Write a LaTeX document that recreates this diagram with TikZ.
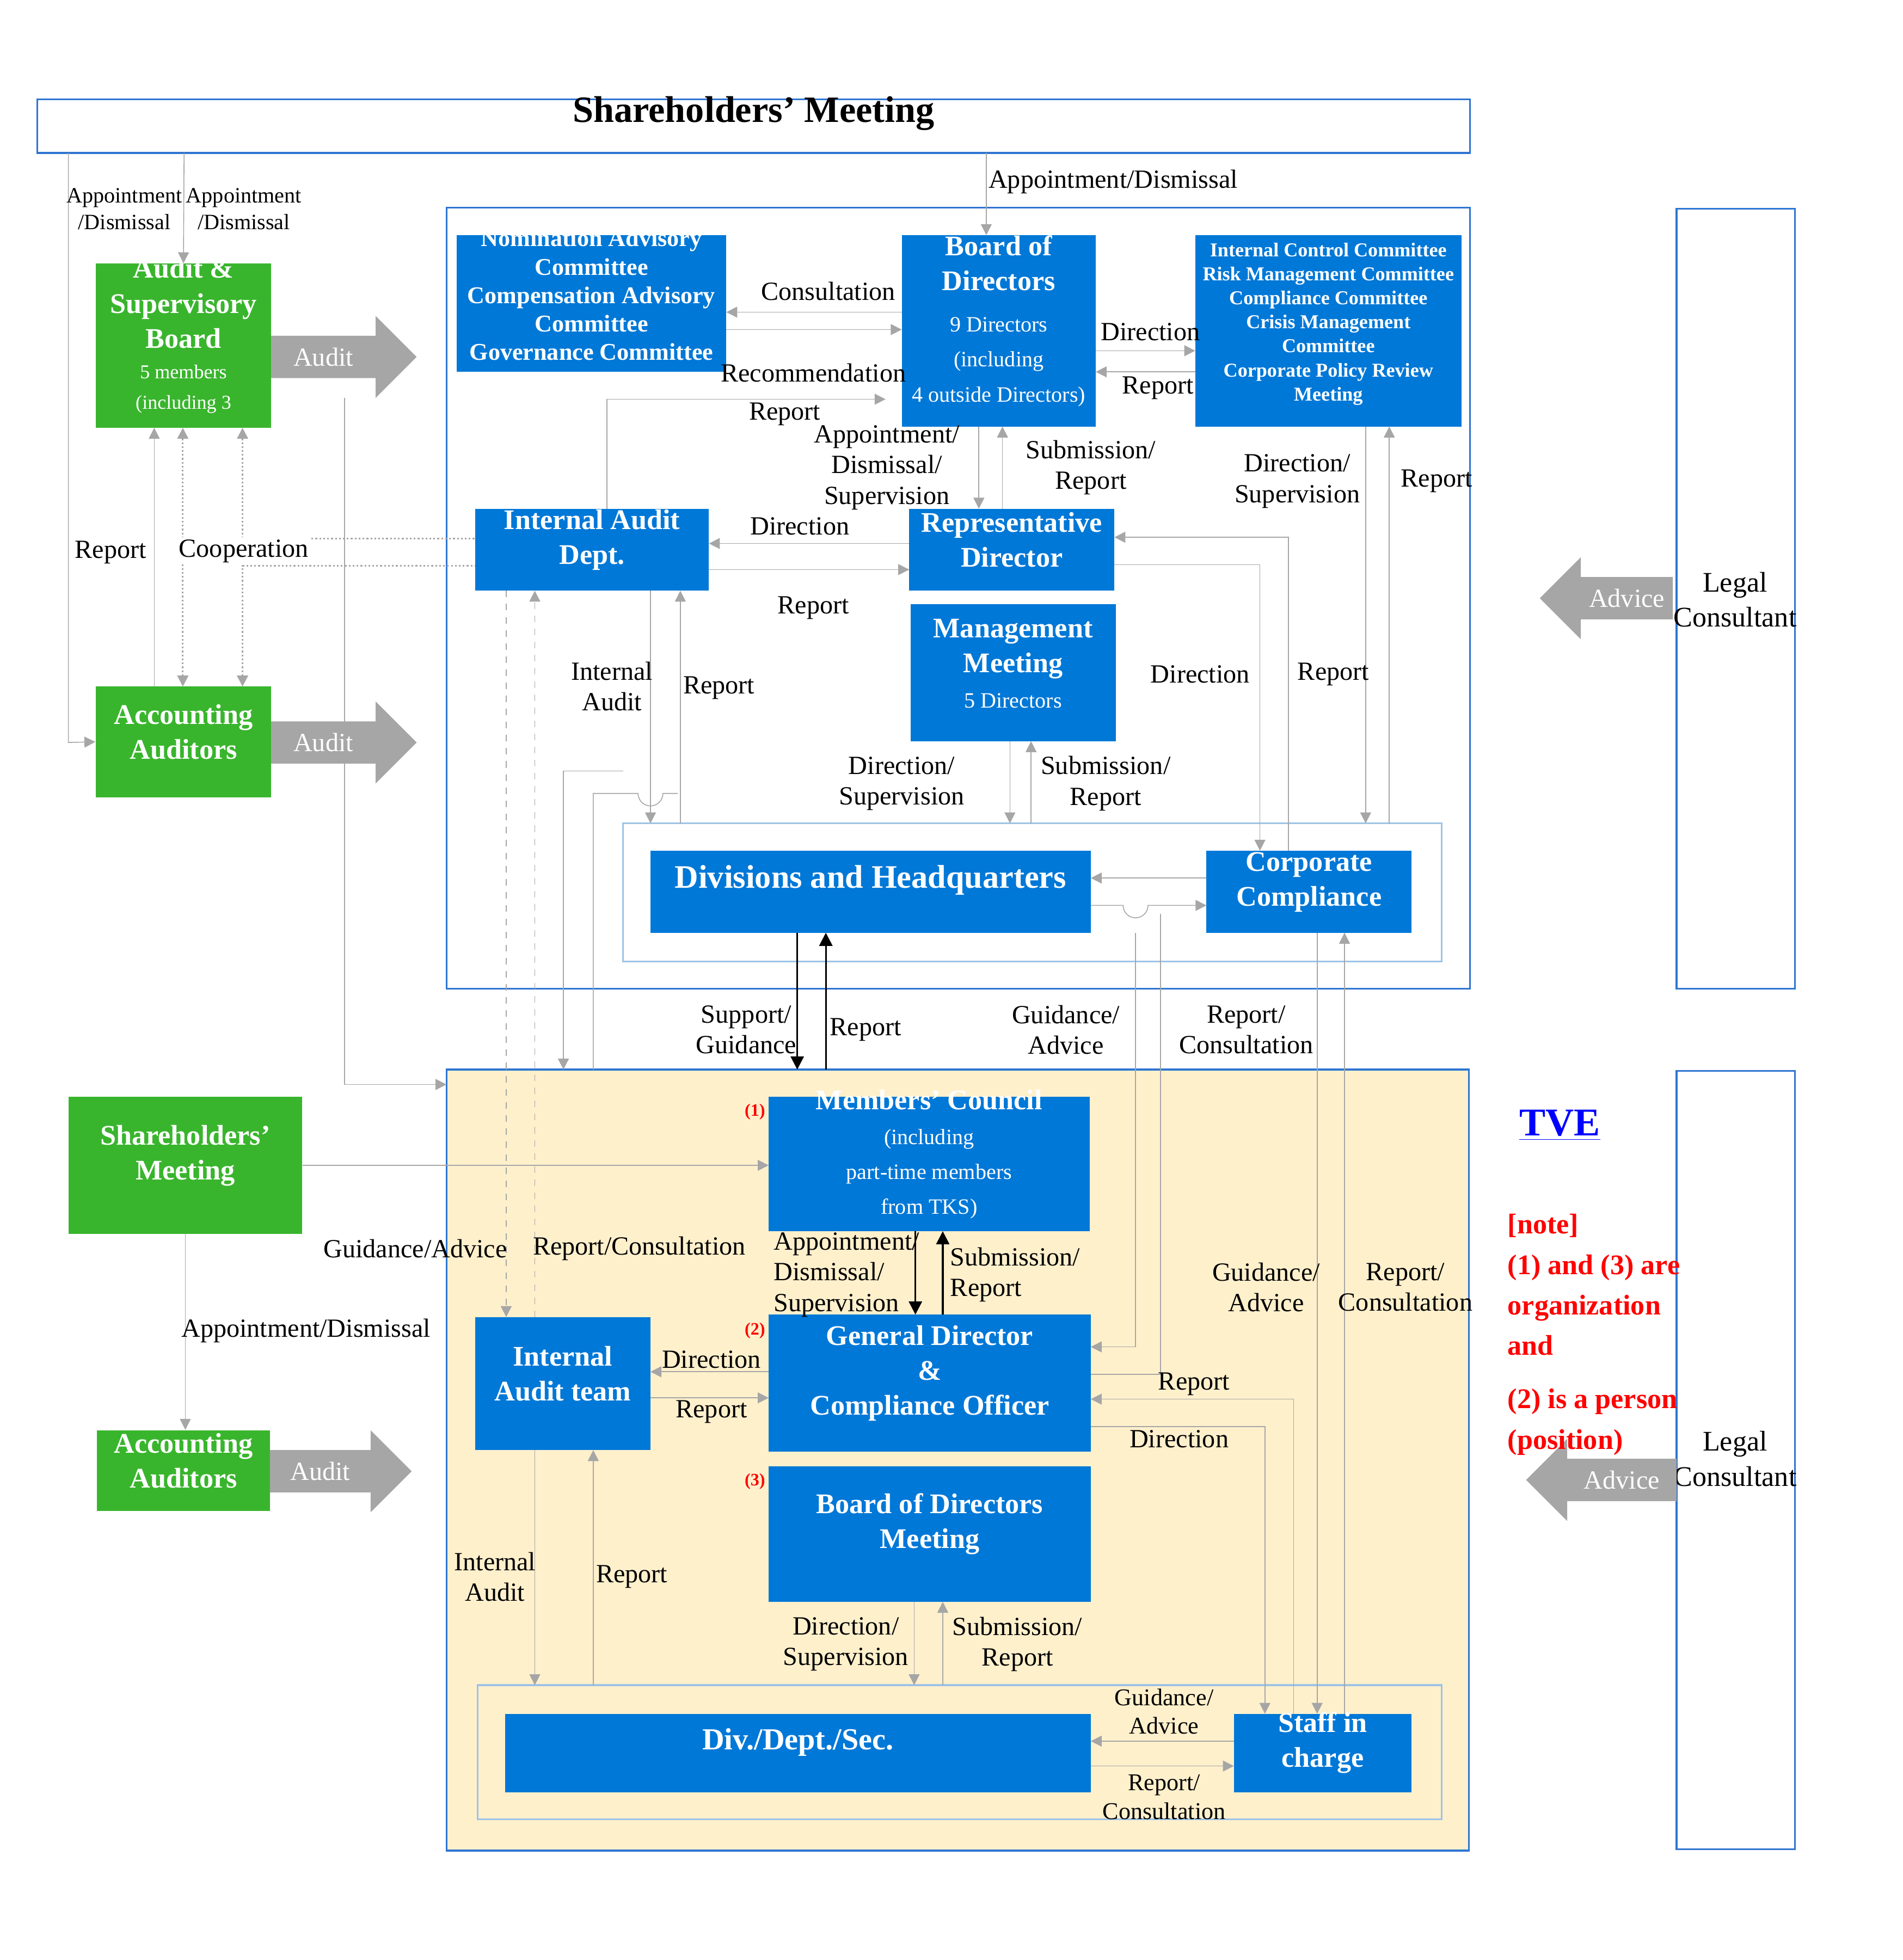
\documentclass[tikz,border=0pt]{standalone}
\usepackage{fontspec}
\setmainfont{Liberation Serif}
\usetikzlibrary{arrows.meta,positioning,fit}
\definecolor{boxblue}{RGB}{0,120,215}
\definecolor{boxgreen}{RGB}{57,181,45}
\definecolor{paleyellow}{RGB}{255,240,204}
\definecolor{linegray}{RGB}{166,166,166}
\definecolor{frameblue}{RGB}{157,195,230}
\definecolor{rimblue}{RGB}{46,117,210}
\tikzset{
  box/.style={draw=none,fill=boxblue,text=white,font=\bfseries,align=center,inner sep=0pt},
  gbox/.style={box,fill=boxgreen},
  frame/.style={draw=rimblue,thick,inner sep=0pt},
  lbl/.style={font=\fontsize{12}{14}\selectfont,align=center,inner sep=1pt},
  conn/.style={draw=linegray,-{Triangle[length=5pt,width=5pt]}},
  dots/.style={conn,densely dotted,thick},
  dashline/.style={conn,dashed},
  bconn/.style={draw=black,thick,-{Triangle[length=6pt,width=6pt]}}
}
\newcommand\bx[7]{\node[#6,fit={(#2,#3)(#4,#5)}] (#1) {#7};}
\newcommand\fatarrow[6]{% name, tail x, tip x, y, head (signed), text
  \fill[linegray] (#2,#4-17)--(#3-#5,#4-17)--(#3-#5,#4-33)--(#3,#4)--(#3-#5,#4+33)--(#3-#5,#4+17)--(#2,#4+17)--cycle;
  \node[text=white,font=\fontsize{12}{14}\selectfont] (#1) at ({(#2+#3-#5)/2},#4) {#6};}
\begin{document}
\begin{tikzpicture}[x=0.02cm,y=-0.02cm]
\useasboundingbox (0,0) rectangle (1530,1576);
% frames
\node[frame,fill=paleyellow,fit={(359,860)(1181,1488)}] (lower) {};
\node[frame,fit={(359,167)(1182,795)}] (upper) {};
\node[frame,fit={(30,80)(1182,123)},font=\fontsize{17}{20}\selectfont\bfseries] (shm) {Shareholders' Meeting};
\node[frame,fit={(1348,168)(1443,795)}] (legal1) {};
\node[frame,fit={(1348,861)(1443,1487)}] (legal2) {};
\node[lbl,font=\fontsize{13}{16}\selectfont] (lc1) at (1395,482) {Legal\\Consultant};
\node[lbl,font=\fontsize{13}{16}\selectfont] (lc2) at (1395,1173) {Legal\\Consultant};
\node[frame,draw=frameblue,fit={(501,662)(1159,773)}] (divframe) {};
\node[frame,draw=frameblue,fit={(384,1355)(1159,1463)}] (secframe) {};
% green boxes
\bx{asb}{77}{212}{218}{344}{gbox,font=\fontsize{13}{16}\selectfont\bfseries}{Audit \&\\Supervisory\\Board\\[-2pt]{\fontsize{9}{10}\selectfont\mdseries 5 members}\\[-2pt]{\fontsize{9}{10}\selectfont\mdseries (including 3}}
\bx{acc}{77}{552}{218}{641}{gbox,font=\fontsize{13}{16}\selectfont\bfseries}{Accounting\\Auditors}
\bx{shg}{55}{882}{243}{992}{gbox,font=\fontsize{13}{16}\selectfont\bfseries}{Shareholders'\\Meeting}
\bx{accl}{78}{1150}{217}{1215}{gbox,font=\fontsize{13}{16}\selectfont\bfseries}{Accounting\\Auditors}
% upper blue boxes
\bx{nom}{367}{189}{584}{299}{box,font=\fontsize{11}{13}\selectfont\bfseries}{Nomination Advisory\\Committee\\Compensation Advisory\\Committee\\Governance Committee}
\bx{bod}{725}{189}{881}{343}{box,font=\fontsize{13}{16}\selectfont\bfseries}{Board of\\Directors\\[3pt]{\fontsize{10}{11}\selectfont\mdseries 9 Directors}\\{\fontsize{10}{11}\selectfont\mdseries (including}\\{\fontsize{10}{11}\selectfont\mdseries 4 outside Directors)}}
\bx{icc}{961}{189}{1175}{343}{box,font=\fontsize{9}{11}\selectfont\bfseries}{Internal Control Committee\\Risk Management Committee\\Compliance Committee\\Crisis Management\\Committee\\Corporate Policy Review\\Meeting}
\bx{iad}{382}{409}{570}{475}{box,font=\fontsize{13}{16}\selectfont\bfseries}{Internal Audit\\Dept.}
\bx{rep}{731}{409}{896}{475}{box,font=\fontsize{13}{16}\selectfont\bfseries}{Representative\\Director}
\bx{mgm}{732}{486}{897}{596}{box,font=\fontsize{13}{16}\selectfont\bfseries}{Management\\Meeting\\{\fontsize{10}{12}\selectfont\mdseries 5 Directors}}
\bx{div}{523}{684}{877}{750}{box,font=\fontsize{15}{18}\selectfont\bfseries}{Divisions and Headquarters}
\bx{cc}{970}{684}{1135}{750}{box,font=\fontsize{13}{16}\selectfont\bfseries}{Corporate\\Compliance}
% lower blue boxes
\bx{mc}{618}{882}{876}{990}{box,font=\fontsize{13}{16}\selectfont\bfseries}{Members' Council\\{\fontsize{10}{12}\selectfont\mdseries (including}\\{\fontsize{10}{12}\selectfont\mdseries part-time members}\\{\fontsize{10}{12}\selectfont\mdseries from TKS)}}
\bx{iat}{382}{1059}{523}{1166}{box,font=\fontsize{13}{16}\selectfont\bfseries}{Internal\\Audit team}
\bx{gd}{618}{1057}{877}{1167}{box,font=\fontsize{13}{16}\selectfont\bfseries}{General Director\\\&\\Compliance Officer}
\bx{bdm}{618}{1179}{877}{1288}{box,font=\fontsize{13}{16}\selectfont\bfseries}{Board of Directors Meeting}
\bx{sec}{406}{1378}{877}{1441}{box,font=\fontsize{14}{17}\selectfont\bfseries}{Div./Dept./Sec.}
\bx{sic}{992}{1378}{1135}{1441}{box,font=\fontsize{13}{16}\selectfont\bfseries}{Staff in\\charge}
\node[text=red,font=\fontsize{8}{10}\selectfont\bfseries] (n1) at (607,894) {(1)};
\node[text=red,font=\fontsize{8}{10}\selectfont\bfseries] (n2) at (607,1070) {(2)};
\node[text=red,font=\fontsize{8}{10}\selectfont\bfseries] (n3) at (607,1191) {(3)};
% big arrows
\fatarrow{au1}{218}{335}{287}{33}{Audit}
\fatarrow{au2}{218}{335}{597}{33}{Audit}
\fatarrow{au3}{217}{331}{1183}{33}{Audit}
\fatarrow{adv1}{1345}{1238}{481}{-33}{Advice}
\fatarrow{adv2}{1348}{1227}{1190}{-33}{Advice}
% notes
\node[text=blue,font=\fontsize{18}{20}\selectfont\bfseries,inner sep=1pt] (tve) at (1254,905) {\underline{TVE}};
\node[text=red,font=\fontsize{13}{18.5}\selectfont\bfseries,align=left,anchor=north west] (note) at (1206,970) {[note]\\(1) and (3) are\\organization\\and\\[6pt](2) is a person\\(position)};
% top connectors
\draw[conn] (148,123) -- (asb.north);
\draw[conn] (55,123) -- (55,597) -- (acc.west);
\draw[conn] (793,123) -- (793,189);
\node[lbl,font=\fontsize{10}{12}\selectfont] at (100,168) {Appointment\\/Dismissal};
\node[lbl,font=\fontsize{10}{12}\selectfont] at (196,168) {Appointment\\/Dismissal};
\node[lbl] at (895,146) {Appointment/Dismissal};
\draw[conn] (725,251) -- (584,251);
\draw[conn] (584,265) -- (725,265);
\node[lbl] at (666,234) {Consultation};
\node[lbl] at (654,300) {Recommendation};
\draw[conn] (881,282) -- (961,282);
\draw[conn] (961,299) -- (881,299);
\node[lbl] at (925,267) {Direction};
\node[lbl] at (931,312) {Report};
\draw[conn] (488,409) -- (488,321) -- (712,321);
\node[lbl] at (631,333) {Report};
\draw[conn] (787,343) -- (787,409);
\draw[conn] (806,409) -- (806,343);
\node[lbl] at (713,376) {Appointment/\\Dismissal/\\Supervision};
\node[lbl] at (877,376) {Submission/\\Report};
\draw[conn] (731,437) -- (570,437);
\draw[conn] (570,458) -- (731,458);
\node[lbl] at (643,423) {Direction};
\node[lbl] at (654,489) {Report};
\draw[conn] (1098,343) -- (1098,662);
\draw[conn] (1117,662) -- (1117,343);
\node[lbl] at (1043,387) {Direction/\\Supervision};
\node[lbl] at (1155,387) {Report};
\draw[conn] (896,454) -- (1013,454) -- (1013,684);
\draw[conn] (1036,684) -- (1036,432) -- (896,432);
\node[lbl] at (965,542) {Direction};
\node[lbl] at (1072,542) {Report};
\draw[conn] (523,475) -- (523,662);
\draw[conn] (547,662) -- (547,475);
\node[lbl] at (492,552) {Internal\\Audit};
\node[lbl] at (578,553) {Report};
\draw[conn] (812,596) -- (812,662);
\draw[conn] (829,662) -- (829,596);
\node[lbl] at (725,630) {Direction/\\Supervision};
\node[lbl] at (889,630) {Submission/\\Report};
\draw[conn] (970,706) -- (877,706);
\draw[conn] (877,728) -- (903,728) arc (180:0:10) -- (970,728);
\draw[bconn] (641,750) -- (641,860);
\draw[bconn] (664,860) -- (664,750);
\node[lbl] at (600,828) {Support/\\Guidance};
\node[lbl] at (696,828) {Report};
% left connectors
\draw[conn] (124,552) -- (124,344);
\node[lbl] at (89,444) {Report};
\draw[dots,{Triangle[length=5pt,width=5pt]}-{Triangle[length=5pt,width=5pt]}] (147,344) -- (147,552);
\draw[dots,{Triangle[length=5pt,width=5pt]}-] (195,344) -- (195,433) -- (382,433);
\draw[dots,{Triangle[length=5pt,width=5pt]}-] (195,552) -- (195,455) -- (382,455);
\node[lbl,fill=white] at (196,443) {Cooperation};
\draw[conn] (277,320) -- (277,872) -- (359,872);
\draw[dashline] (407,475) -- (407,1059);
\draw[dashline] (430,1059) -- (430,475);
\draw[conn] (501,620) -- (453,620) -- (453,860);
\draw[draw=linegray] (477,860) -- (477,638) -- (513,638) arc (180:0:10) -- (545,638);
% lower right connectors
\draw[conn] (913,750) -- (913,1083) -- (877,1083);
\draw[draw=linegray] (877,1105) -- (933,1105) -- (933,735);
\node[lbl] at (857,828) {Guidance/\\Advice};
\node[lbl] at (1002,828) {Report/\\Consultation};
\draw[conn] (1040,1378) -- (1040,1125) -- (877,1125);
\draw[conn] (877,1147) -- (1017,1147) -- (1017,1378);
\node[lbl] at (960,1113) {Report};
\node[lbl] at (948,1157) {Direction};
\draw[conn] (1059,750) -- (1059,1378);
\draw[conn] (1081,1378) -- (1081,750);
\node[lbl] at (1018,1035) {Guidance/\\Advice};
\node[lbl] at (1130,1035) {Report/\\Consultation};
% lower left connectors
\draw[conn] (shg.east |- 0,937) -- (618,937);
\node[lbl] at (334,1004) {Guidance/Advice};
\node[lbl] at (514,1004) {Report/Consultation};
\draw[conn] (149,992) -- (accl.north -| 149,0);
\node[lbl] at (246,1070) {Appointment/Dismissal};
\draw[bconn] (736,990) -- (736,1057);
\draw[bconn] (758,1057) -- (758,990);
\node[lbl,align=left,anchor=west] at (620,1025) {Appointment/\\Dismissal/\\Supervision};
\node[lbl,align=left,anchor=west] at (762,1025) {Submission/\\Report};
\draw[conn] (618,1103) -- (523,1103);
\draw[conn] (523,1124) -- (618,1124);
\node[lbl] at (572,1093) {Direction};
\node[lbl] at (572,1135) {Report};
\draw[conn] (430,1166) -- (430,1355);
\draw[conn] (477,1355) -- (477,1166);
\node[lbl] at (398,1268) {Internal\\Audit};
\node[lbl] at (508,1268) {Report};
\draw[conn] (735,1288) -- (735,1355);
\draw[conn] (758,1355) -- (758,1288);
\node[lbl] at (680,1322) {Direction/\\Supervision};
\node[lbl] at (818,1322) {Submission/\\Report};
\draw[conn] (992,1400) -- (877,1400);
\draw[conn] (877,1420) -- (992,1420);
\node[lbl,font=\fontsize{11}{13}\selectfont] at (936,1376) {Guidance/\\Advice};
\node[lbl,font=\fontsize{11}{13}\selectfont] at (936,1445) {Report/\\Consultation};
\end{tikzpicture}
\end{document}
